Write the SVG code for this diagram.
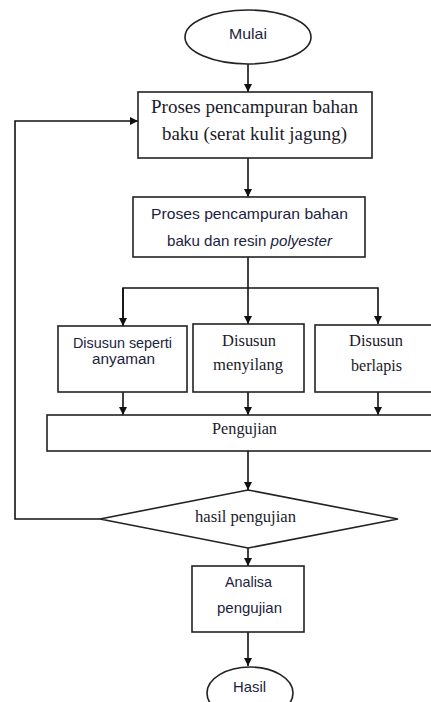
<svg xmlns="http://www.w3.org/2000/svg" width="431" height="702" viewBox="0 0 431 702">
<style>
.shape{fill:#fff;stroke:#222;stroke-width:1.6}
.line{fill:none;stroke:#111;stroke-width:1.6}
.serif{font-family:"Liberation Serif","Times New Roman",serif;fill:#1a1a2a;text-anchor:middle}
.sans{font-family:"Liberation Sans",Arial,sans-serif;fill:#1c2340;text-anchor:middle}
</style>
<defs>
<marker id="arr" viewBox="0 0 8 8" refX="8" refY="4" markerWidth="8" markerHeight="8" markerUnits="userSpaceOnUse" orient="auto">
<path d="M0,0 L8,4 L0,8 z" fill="#111"/>
</marker>
</defs>
<rect width="431" height="702" fill="#fff"/>
<g id="connectors">
<line class="line" x1="248" y1="64" x2="248" y2="92" marker-end="url(#arr)"/>
<line class="line" x1="248" y1="158" x2="248" y2="197" marker-end="url(#arr)"/>
<line class="line" x1="248" y1="257" x2="248" y2="324" marker-end="url(#arr)"/>
<polyline class="line" points="123,326 123,288 378,288 378,324" marker-end="url(#arr)"/>
<line class="line" x1="123" y1="288" x2="123" y2="326" marker-end="url(#arr)"/>
<line class="line" x1="123" y1="392" x2="123" y2="415" marker-end="url(#arr)"/>
<line class="line" x1="248" y1="392" x2="248" y2="415" marker-end="url(#arr)"/>
<line class="line" x1="378" y1="392" x2="378" y2="415" marker-end="url(#arr)"/>
<line class="line" x1="248" y1="451" x2="248" y2="490" marker-end="url(#arr)"/>
<line class="line" x1="248" y1="548" x2="248" y2="566" marker-end="url(#arr)"/>
<line class="line" x1="248" y1="632" x2="248" y2="666" marker-end="url(#arr)"/>
<polyline class="line" points="100,519 15,519 15,121 138,121" marker-end="url(#arr)"/>
</g>
<g id="mulai">
<ellipse class="shape" cx="248" cy="37" rx="63" ry="27"/>
<text class="sans" x="248" y="39" font-size="15" textLength="38" lengthAdjust="spacingAndGlyphs">Mulai</text>
</g>
<g id="proses1">
<rect class="shape" x="138" y="92" width="234" height="66"/>
<text class="serif" x="254.5" y="113" font-size="18" textLength="207" lengthAdjust="spacingAndGlyphs">Proses pencampuran bahan</text>
<text class="serif" x="254.5" y="140" font-size="18" textLength="185" lengthAdjust="spacingAndGlyphs">baku (serat kulit jagung)</text>
</g>
<g id="proses2">
<rect class="shape" x="133" y="197" width="232" height="60"/>
<text class="sans" x="249.5" y="219" font-size="14.5" textLength="197" lengthAdjust="spacingAndGlyphs">Proses pencampuran bahan</text>
<text class="sans" x="249.5" y="246" font-size="14.5" textLength="165" lengthAdjust="spacingAndGlyphs">baku dan resin <tspan font-style="italic">polyester</tspan></text>
</g>
<g id="anyaman">
<rect class="shape" x="58" y="326" width="129" height="66"/>
<text class="sans" x="122.5" y="348" font-size="14" textLength="99" lengthAdjust="spacingAndGlyphs">Disusun seperti</text>
<text class="sans" x="123.5" y="364" font-size="14" textLength="63" lengthAdjust="spacingAndGlyphs">anyaman</text>
</g>
<g id="menyilang">
<rect class="shape" x="193" y="324" width="111" height="68"/>
<text class="serif" x="249" y="346" font-size="16.5" textLength="54" lengthAdjust="spacingAndGlyphs">Disusun</text>
<text class="serif" x="248" y="370" font-size="16.5" textLength="70" lengthAdjust="spacingAndGlyphs">menyilang</text>
</g>
<g id="berlapis">
<rect class="shape" x="315" y="325" width="130" height="67"/>
<text class="serif" x="376" y="346" font-size="16.5" textLength="54" lengthAdjust="spacingAndGlyphs">Disusun</text>
<text class="serif" x="376.5" y="371" font-size="16.5" textLength="51" lengthAdjust="spacingAndGlyphs">berlapis</text>
</g>
<g id="pengujian">
<rect class="shape" x="47" y="415" width="400" height="36"/>
<text class="serif" x="244.5" y="434" font-size="16.5" textLength="65" lengthAdjust="spacingAndGlyphs">Pengujian</text>
</g>
<g id="hasil-pengujian">
<polygon class="shape" points="248,490 398,519 248,548 100,519"/>
<text class="serif" x="245.5" y="522" font-size="16.5" textLength="101" lengthAdjust="spacingAndGlyphs">hasil pengujian</text>
</g>
<g id="analisa">
<rect class="shape" x="192" y="566" width="112" height="66"/>
<text class="sans" x="248.5" y="587" font-size="14.5" textLength="47" lengthAdjust="spacingAndGlyphs">Analisa</text>
<text class="sans" x="249.5" y="613" font-size="14.5" textLength="65" lengthAdjust="spacingAndGlyphs">pengujian</text>
</g>
<g id="hasil">
<ellipse class="shape" cx="250" cy="693" rx="43" ry="26"/>
<text class="sans" x="249.5" y="692" font-size="14.5" textLength="33" lengthAdjust="spacingAndGlyphs">Hasil</text>
</g>
</svg>
